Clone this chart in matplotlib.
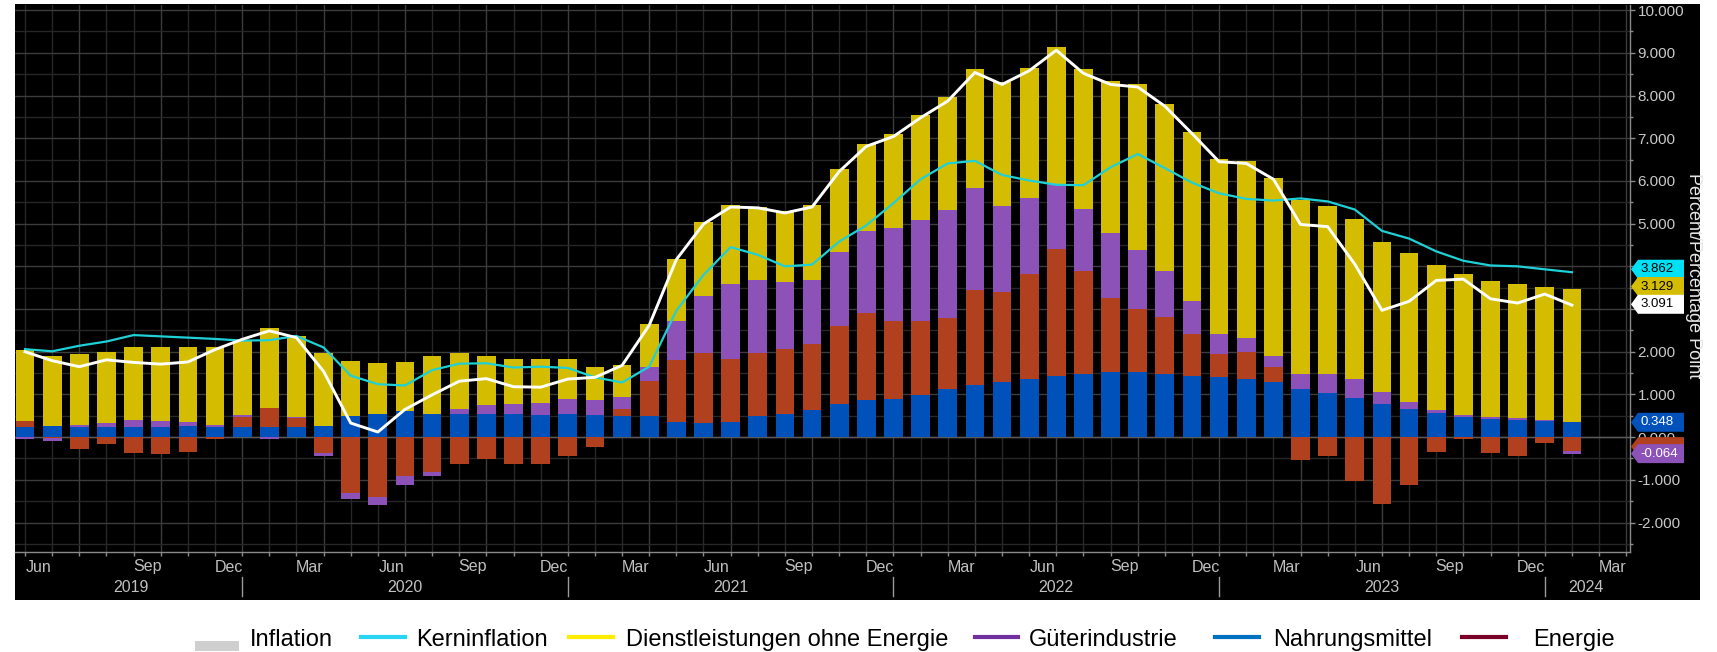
import numpy as np
import pandas as pd
import matplotlib
matplotlib.use('Agg')
import matplotlib.pyplot as plt
from matplotlib import font_manager as fm
from matplotlib.transforms import blended_transform_factory
from matplotlib.patches import Rectangle, Polygon
from matplotlib.lines import Line2D

# ---------------- data ----------------
months = pd.period_range('2019-04', '2024-01', freq='M')

food = [0.24, 0.27, 0.24, 0.24, 0.23, 0.23, 0.27, 0.24, 0.24, 0.24, 0.24, 0.27,
        0.49, 0.54, 0.62, 0.55, 0.55, 0.55, 0.55, 0.52, 0.55, 0.52, 0.49, 0.49,
        0.35, 0.32, 0.35, 0.49, 0.54, 0.63, 0.77, 0.87, 0.89, 0.98, 1.12, 1.23,
        1.28, 1.37, 1.43, 1.48, 1.53, 1.53, 1.48, 1.43, 1.40, 1.35, 1.28, 1.13,
        1.04, 0.91, 0.77, 0.66, 0.57, 0.48, 0.43, 0.41, 0.37, 0.348]
energy = [0.13, -0.02, -0.27, -0.16, -0.37, -0.39, -0.34, -0.05, 0.23, 0.44, 0.20, -0.38,
          -1.30, -1.40, -0.91, -0.82, -0.62, -0.52, -0.62, -0.62, -0.44, -0.23, 0.17, 0.82,
          1.45, 1.65, 1.49, 1.48, 1.52, 1.56, 1.84, 2.03, 1.83, 1.73, 1.66, 2.21,
          2.12, 2.46, 2.98, 2.40, 1.74, 1.46, 1.33, 0.98, 0.55, 0.65, 0.37, -0.54,
          -0.45, -1.03, -1.57, -1.12, -0.34, -0.05, -0.38, -0.44, -0.13, -0.322]
goods = [-0.05, -0.08, 0.05, 0.08, 0.16, 0.14, 0.08, 0.05, 0.04, -0.05, 0.03, -0.06,
         -0.14, -0.19, -0.21, -0.09, 0.11, 0.20, 0.23, 0.29, 0.34, 0.35, 0.27, 0.34,
         0.91, 1.33, 1.75, 1.72, 1.58, 1.50, 1.73, 1.93, 2.18, 2.38, 2.54, 2.40,
         2.02, 1.78, 1.51, 1.47, 1.50, 1.39, 1.09, 0.78, 0.47, 0.31, 0.25, 0.34,
         0.44, 0.44, 0.29, 0.17, 0.07, 0.04, 0.04, 0.03, 0.03, -0.064]
services = [1.66, 1.62, 1.65, 1.67, 1.73, 1.75, 1.77, 1.82, 1.77, 1.87, 1.90, 1.69,
            1.30, 1.19, 1.15, 1.36, 1.30, 1.16, 1.05, 1.01, 0.95, 0.78, 0.77, 0.99,
            1.47, 1.74, 1.84, 1.70, 1.65, 1.74, 1.94, 2.04, 2.19, 2.46, 2.64, 2.78,
            2.90, 3.04, 3.21, 3.26, 3.57, 3.89, 3.90, 3.96, 4.09, 4.15, 4.18, 4.09,
            3.94, 3.77, 3.50, 3.49, 3.39, 3.29, 3.19, 3.15, 3.11, 3.129]
inflation = [2.00, 1.79, 1.65, 1.81, 1.75, 1.71, 1.76, 2.05, 2.29, 2.49, 2.33, 1.54,
             0.33, 0.12, 0.65, 0.99, 1.31, 1.37, 1.18, 1.17, 1.36, 1.40, 1.68, 2.62,
             4.16, 4.99, 5.39, 5.37, 5.25, 5.39, 6.22, 6.81, 7.04, 7.48, 7.87, 8.54,
             8.26, 8.58, 9.06, 8.52, 8.26, 8.20, 7.75, 7.11, 6.45, 6.41, 6.04, 4.98,
             4.93, 4.05, 2.97, 3.18, 3.67, 3.70, 3.24, 3.14, 3.35, 3.091]
core = [2.06, 2.01, 2.14, 2.24, 2.39, 2.36, 2.33, 2.30, 2.26, 2.27, 2.37, 2.10,
        1.44, 1.24, 1.21, 1.57, 1.72, 1.73, 1.63, 1.65, 1.62, 1.40, 1.28, 1.65,
        2.96, 3.80, 4.45, 4.27, 4.00, 4.04, 4.58, 4.96, 5.48, 6.04, 6.41, 6.47,
        6.14, 6.01, 5.91, 5.90, 6.32, 6.63, 6.30, 5.96, 5.71, 5.58, 5.54, 5.59,
        5.52, 5.33, 4.83, 4.65, 4.35, 4.13, 4.02, 4.00, 3.93, 3.862]

month_labels = ['Jun', 'Sep', 'Dec', 'Mar', 'Jun', 'Sep', 'Dec', 'Mar', 'Jun', 'Sep',
                'Dec', 'Mar', 'Jun', 'Sep', 'Dec', 'Mar', 'Jun', 'Sep', 'Dec', 'Mar']
month_label_pos = [0.5, 4.5, 7.5, 10.5, 13.5, 16.5, 19.5, 22.5, 25.5, 28.5,
                   31.5, 34.5, 37.5, 40.5, 43.5, 46.5, 49.5, 52.5, 55.5, 58.5]
year_labels = ['2019', '2020', '2021', '2022', '2023', '2024']
year_label_pos = [3.9, 14, 26, 38, 50, 57.5]
year_sep_pos = [8, 20, 32, 44, 56]
y_ticks = [-2, -1, 0, 1, 2, 3, 4, 5, 6, 7, 8, 9, 10]
y_tick_hidden = [3, 4]   # covered by the value tags in the original

legend_names = ['Inflation', 'Kerninflation', 'Dienstleistungen ohne Energie',
                'Güterindustrie', 'Nahrungsmittel', 'Energie']

# ---------------- style ----------------
YELLOW = '#d4bd00'
PURPLE = '#8c52b8'
BLUE = '#0052ba'
RED = '#b0401e'
CYAN = '#1fd0d8'

names = {f.name for f in fm.fontManager.ttflist}
NARROW = 'Liberation Sans Narrow' if 'Liberation Sans Narrow' in names else 'Liberation Sans'
REG = 'Liberation Sans'
plt.rcParams['font.family'] = [NARROW, 'DejaVu Sans']

W, H = 1717, 652
fig = plt.figure(figsize=(W / 100, H / 100), dpi=100, facecolor='white')


def fx(px):
    return px / W


def fy(py):
    return 1 - py / H


fig.add_artist(Rectangle((fx(15), fy(600)), fx(1700) - fx(15), fy(4) - fy(600),
                         transform=fig.transFigure, facecolor='black',
                         edgecolor='none', zorder=-5))

ax = fig.add_axes([fx(15), fy(552), fx(1630) - fx(15), fy(5) - fy(552)])
ax.set_facecolor('black')

x = np.arange(len(months))
bw = 0.69
pos_base = np.zeros(len(x))
neg_base = np.zeros(len(x))
for vals, col in [(food, BLUE), (energy, RED), (goods, PURPLE), (services, YELLOW)]:
    v = np.asarray(vals, dtype=float)
    p = np.where(v > 0, v, 0)
    n = np.where(v < 0, v, 0)
    ax.bar(x, p, bw, bottom=pos_base, color=col, linewidth=0, zorder=2)
    ax.bar(x, n, bw, bottom=neg_base, color=col, linewidth=0, zorder=2)
    pos_base += p
    neg_base += n

ax.plot(x, core, color=CYAN, lw=1.6, zorder=3)
ax.plot(x, inflation, color='white', lw=2.1, zorder=4)

ax.set_xlim(-0.37, 59.14)
ax.set_ylim(-2.69, 10.12)

# grid
ax.set_axisbelow(True)
ax.set_xticks([i for i in range(0, 60) if (i - 2) % 3 == 0])
ax.set_xticks(np.arange(0, 60), minor=True)
ax.set_xticklabels([])
ax.set_yticks(y_ticks)
ax.set_yticks(np.arange(-2.5, 10.5, 0.5), minor=True)
ax.set_yticklabels(['' if v in y_tick_hidden else f'{v:.3f}' for v in y_ticks])
ax.grid(which='major', color='#3c3c3c', lw=1.0)
ax.grid(which='minor', color='#272727', lw=1.0)
ax.axhline(0, color='#5a5a5a', lw=1.0, zorder=1)

for s in ['top', 'left']:
    ax.spines[s].set_visible(False)
for s in ['right', 'bottom']:
    ax.spines[s].set_color('#8a8a8a')
    ax.spines[s].set_linewidth(1.0)

ax.yaxis.tick_right()
ax.tick_params(axis='y', which='major', length=3.5, width=1, color='#8a8a8a',
               labelcolor='#c8c8c8', labelsize=11, pad=2)
ax.tick_params(axis='y', which='minor', length=2, width=1, color='#8a8a8a')
ax.tick_params(axis='x', which='both', length=3, width=1, color='#8a8a8a')

# x labels
tb = blended_transform_factory(ax.transData, fig.transFigure)
for p, t in zip(month_label_pos, month_labels):
    ax.text(p, fy(567), t, transform=tb, ha='center', va='center',
            color='#c0c0c0', fontsize=11.5, clip_on=False)
for p, t in zip(year_label_pos, year_labels):
    ax.text(p, fy(587), t, transform=tb, ha='center', va='center',
            color='#c0c0c0', fontsize=11.5, clip_on=False)
for p in year_sep_pos:
    ax.add_line(Line2D([p, p], [fy(577), fy(596)], transform=tb, color='#9a9a9a',
                       lw=1.0, clip_on=False))

# y axis label
fig.text(fx(1693), fy(276), 'Percent/Percentage Point', rotation=270,
         ha='center', va='center', color='#e6e6e6', fontsize=13, family=REG)

# value tags on the right axis
ta = blended_transform_factory(ax.transAxes, ax.transData)
axw = 1630 - 15


def ax_frac(px):
    return (px - 15) / axw


def tag(yc, face, txt, tcol, hpx=19):
    h = hpx / 42.7 / 2
    x0, x1, x2 = ax_frac(1631), ax_frac(1638), ax_frac(1684)
    poly = Polygon([(x0, yc), (x1, yc + h), (x2, yc + h), (x2, yc - h), (x1, yc - h)],
                   closed=True, transform=ta, facecolor=face, edgecolor='none',
                   clip_on=False, zorder=6)
    ax.add_patch(poly)
    if txt:
        ax.text(ax_frac(1640), yc, txt, transform=ta, ha='left', va='center',
                color=tcol, fontsize=9.5, clip_on=False, zorder=7)


top_stack = food[-1] + services[-1]
tag(core[-1] + 0.07, '#00e1f5', f'{core[-1]:.3f}', 'black')
tag(top_stack + 0.05, YELLOW, f'{services[-1]:.3f}', 'black')
tag(inflation[-1] + 0.02, 'white', f'{inflation[-1]:.3f}', 'black')
tag(food[-1], BLUE, f'{food[-1]:.3f}', 'white')
tag(energy[-1] + 0.1, RED, '', 'white')
tag(energy[-1] + goods[-1], PURPLE, f'{goods[-1]:.3f}', 'white')

# legend (manual)
leg_items = [
    ('gray', '#cfcfcf', 195, 239, 250),
    ('line', '#29d4f5', 361, 405, 416),
    ('line', '#ffec00', 569, 613, 626),
    ('line', '#7030a0', 975, 1018, 1029),
    ('line', '#0070c0', 1215, 1259, 1273),
    ('line', '#7b0028', 1462, 1506, 1533),
]
for (kind, col, a, b, tx), name in zip(leg_items, legend_names):
    if kind == 'gray':
        fig.add_artist(Rectangle((fx(a), fy(651)), fx(b) - fx(a), fy(641) - fy(651),
                                 transform=fig.transFigure, facecolor=col,
                                 edgecolor='none'))
    else:
        fig.add_artist(Line2D([fx(a), fx(b)], [fy(637), fy(637)],
                              transform=fig.transFigure, color=col, lw=3.0))
    fig.text(fx(tx), fy(646), name, ha='left', va='baseline', color='black',
             fontsize=17, family=REG)

fig.savefig('out.png', dpi=100, facecolor='white')
